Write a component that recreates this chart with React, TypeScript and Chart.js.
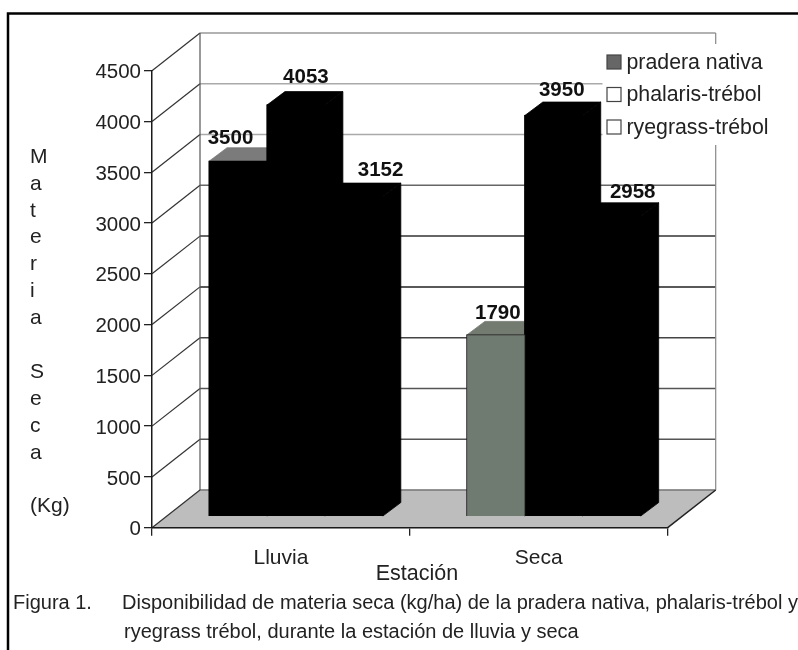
import React, { useEffect, useRef } from "react";
import { Chart, registerables } from "chart.js";

Chart.register(...registerables);

const categories = ["Lluvia", "Seca"];
const seriesNames = ["pradera nativa", "phalaris-trébol", "ryegrass-trébol"];
const praderaNativa = [3500, 1790];
const phalarisTrebol = [4053, 3950];
const ryegrassTrebol = [3152, 2958];
const yTicks = [0, 500, 1000, 1500, 2000, 2500, 3000, 3500, 4000, 4500];
const yAxisLetters = ["M", "a", "t", "e", "r", "i", "a", "", "S", "e", "c", "a", "", "(Kg)"];
const xAxisTitle = "Estación";
const captionLabel = "Figura 1.";
const captionLines = [
  "Disponibilidad de materia seca (kg/ha) de la pradera nativa, phalaris-trébol y",
  "ryegrass trébol, durante la estación de lluvia y seca",
];

const FONT = '"Liberation Sans", Arial, sans-serif';
const TEXT = "#222222";
const WALL = { dx: 48, dy: -37.7 };
const INSET = { dx: 15, dy: -11 };
const DEPTH = { dx: 18, dy: -13.5 };
const gridShades = ["", "#555", "#555", "#444", "#222", "#333", "#666", "#aaa", "#aaa", "#999"];
const labelNudge = [
  [[-7.5, -23], [2, -22]],
  [[10, -28], [8, -25.6]],
  [[26.7, -26], [21, -23.6]],
];
const frontColors = [["#000000", "#6f7a70"], ["#000000", "#000000"], ["#000000", "#000000"]];
const edgeColors = [["#000000", "#222222"], ["#000000", "#000000"], ["#000000", "#000000"]];
const topColors = [["#7b7b7b", "#737a70"], ["#000000", "#000000"], ["#000000", "#000000"]];
const swatches = [
  { fill: "#666666", y: 55 },
  { fill: "#ffffff", y: 87.5 },
  { fill: "#ffffff", y: 120 },
];

const line = (ctx: any, pts: number[][], color: string, width: number) => {
  ctx.beginPath();
  ctx.moveTo(pts[0][0], pts[0][1]);
  pts.slice(1).forEach((p) => ctx.lineTo(p[0], p[1]));
  ctx.strokeStyle = color;
  ctx.lineWidth = width;
  ctx.stroke();
};
const poly = (ctx: any, pts: number[][], color: string) => {
  ctx.beginPath();
  ctx.moveTo(pts[0][0], pts[0][1]);
  pts.slice(1).forEach((p) => ctx.lineTo(p[0], p[1]));
  ctx.closePath();
  ctx.fillStyle = color;
  ctx.fill();
  ctx.strokeStyle = color;
  ctx.lineWidth = 0.8;
  ctx.stroke();
};

const scene3d = {
  id: "scene3d",
  beforeDraw(chart: any) {
    const { ctx, chartArea: a, scales } = chart;
    const y = scales.y;
    ctx.save();
    ctx.fillStyle = "#ffffff";
    ctx.fillRect(0, 0, chart.width, chart.height);
    const y0 = y.getPixelForValue(0);
    const yTop = y.getPixelForValue(4500);
    const bl = a.left + WALL.dx;
    const br = a.right + WALL.dx;
    poly(ctx, [[a.left, y0], [a.right, y0], [br, y0 + WALL.dy], [bl, y0 + WALL.dy]], "#bdbdbd");
    yTicks.forEach((v, i) => {
      const p = y.getPixelForValue(v);
      if (v > 0) {
        line(ctx, [[a.left, p], [bl, p + WALL.dy]], "#333", 1.2);
        line(ctx, [[bl, p + WALL.dy], [br, p + WALL.dy]], gridShades[i], 1.5);
      }
    });
    line(ctx, [[bl, y0 + WALL.dy], [br, y0 + WALL.dy]], "#777", 1.5);
    line(ctx, [[bl, yTop + WALL.dy], [bl, y0 + WALL.dy]], "#555", 1.2);
    line(ctx, [[br, yTop + WALL.dy], [br, y0 + WALL.dy]], "#888", 1.2);
    line(ctx, [[a.right, y0], [br, y0 + WALL.dy]], "#222", 1.5);
    line(ctx, [[a.left, y0], [bl, y0 + WALL.dy]], "#333", 1.2);
    ctx.restore();
  },
  beforeDatasetsDraw(chart: any) {
    const { ctx } = chart;
    ctx.save();
    ctx.translate(INSET.dx, INSET.dy);
    chart.data.datasets.forEach((_: any, d: number) => {
      chart.getDatasetMeta(d).data.forEach((bar: any, j: number) => {
        const l = bar.x - bar.width / 2;
        const r = bar.x + bar.width / 2;
        poly(ctx, [[l, bar.y], [l + DEPTH.dx, bar.y + DEPTH.dy], [r + DEPTH.dx, bar.y + DEPTH.dy], [r, bar.y]], topColors[d][j]);
        poly(ctx, [[r, bar.y], [r + DEPTH.dx, bar.y + DEPTH.dy], [r + DEPTH.dx, bar.base + DEPTH.dy], [r, bar.base]], "#000000");
      });
    });
  },
  afterDatasetsDraw(chart: any) {
    const { ctx } = chart;
    ctx.restore();
    ctx.save();
    // data labels
    ctx.font = `bold 20.5px ${FONT}`;
    ctx.fillStyle = "#111";
    ctx.textAlign = "center";
    ctx.textBaseline = "middle";
    chart.data.datasets.forEach((ds: any, d: number) => {
      chart.getDatasetMeta(d).data.forEach((bar: any, j: number) => {
        const [nx, ny] = labelNudge[d][j];
        ctx.fillText(String(ds.data[j]), bar.x + INSET.dx + nx, bar.y + INSET.dy + ny);
      });
    });
    // legend
    ctx.fillStyle = "#ffffff";
    ctx.fillRect(602.5, 44, 168, 101);
    ctx.textAlign = "left";
    ctx.font = `21.3px ${FONT}`;
    seriesNames.forEach((name, i) => {
      const s = swatches[i];
      ctx.fillStyle = s.fill;
      ctx.fillRect(607, s.y, 14, 14);
      ctx.strokeStyle = "#444";
      ctx.lineWidth = 1.2;
      ctx.strokeRect(607, s.y, 14, 14);
      ctx.fillStyle = TEXT;
      ctx.fillText(name, 626.5, s.y + 8);
    });
    // axis titles
    ctx.font = `21px ${FONT}`;
    ctx.fillStyle = TEXT;
    yAxisLetters.forEach((t, i) => {
      if (t) ctx.fillText(t, 30, 157 + i * 26.9);
    });
    ctx.font = `21.5px ${FONT}`;
    ctx.textAlign = "center";
    ctx.fillText(xAxisTitle, 417, 574);
    // caption
    ctx.textAlign = "left";
    ctx.font = `20px ${FONT}`;
    ctx.fillText(captionLabel, 13, 603);
    ctx.fillText(captionLines[0], 122, 603);
    ctx.fillText(captionLines[1], 124, 632);
    // frame
    line(ctx, [[8, 650], [8, 13.5], [798, 13.5]], "#000", 2.5);
    ctx.restore();
  },
};

export default function App() {
  const ref = useRef<HTMLCanvasElement | null>(null);
  useEffect(() => {
    const mk = (label: string, data: number[], d: number) => ({
      label,
      data,
      backgroundColor: frontColors[d],
      borderColor: edgeColors[d],
      borderWidth: 1,
      inflateAmount: 0.75,
      barPercentage: 1,
      categoryPercentage: 0.674,
      clip: false as any,
    });
    const chart = new Chart(ref.current as HTMLCanvasElement, {
      type: "bar",
      data: {
        labels: categories,
        datasets: [
          mk(seriesNames[0], praderaNativa, 0),
          mk(seriesNames[1], phalarisTrebol, 1),
          mk(seriesNames[2], ryegrassTrebol, 2),
        ],
      },
      plugins: [scene3d],
      options: {
        responsive: false,
        animation: false,
        layout: { padding: { left: 0, top: 70.7, right: 130.3, bottom: 0 } },
        plugins: { legend: { display: false }, tooltip: { enabled: false }, title: { display: false } },
        scales: {
          x: {
            afterFit: (s: any) => { s.height = 122.3; },
            grid: { drawOnChartArea: false, drawTicks: true, tickLength: 8, color: "#222", lineWidth: 1.3, offset: true },
            border: { display: true, color: "#1a1a1a", width: 1.5 },
            ticks: { color: TEXT, font: { family: FONT, size: 21 }, padding: 10, maxRotation: 0, minRotation: 0, autoSkip: false },
          },
          y: {
            min: 0,
            max: 4500,
            afterFit: (s: any) => { s.width = 152; },
            afterBuildTicks: (s: any) => { s.ticks = yTicks.map((value) => ({ value })); },
            grid: { drawOnChartArea: false, drawTicks: true, tickLength: 8, color: "#222", lineWidth: 1.3 },
            border: { display: true, color: "#1a1a1a", width: 1.5 },
            ticks: { color: TEXT, font: { family: FONT, size: 20.5 }, padding: 3, labelOffset: 2, autoSkip: false, callback: (v: any) => String(v) },
          },
        },
      },
    } as any);
    return () => chart.destroy();
  }, []);
  return (
    <div style={{ position: "absolute", left: 0, top: 0, width: 798, height: 650, background: "#fff" }}>
      <canvas ref={ref} width={798} height={650} style={{ display: "block", filter: "blur(0.5px)" }} />
    </div>
  );
}
